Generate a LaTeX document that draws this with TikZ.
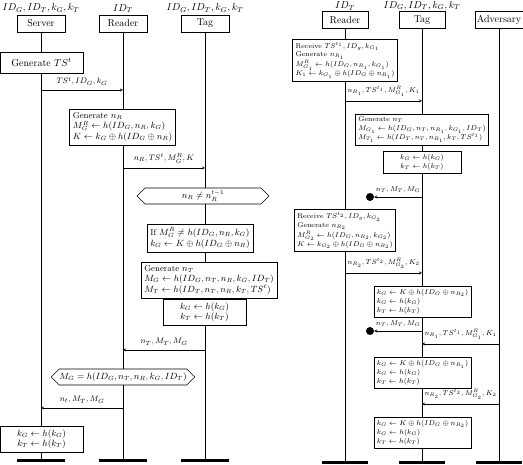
\documentclass[tikz,border=0pt]{standalone}
\usetikzlibrary{shapes.symbols,positioning}

\tikzset{
  party/.style={draw, minimum height=17pt, inner sep=2pt},
  partylabel/.style={inner sep=1pt},
  stepbox/.style={draw, fill=white, align=left, inner sep=3.5pt, font=\fontsize{8.6}{10.4}\selectfont},
  smallbox/.style={draw, fill=white, align=left, inner sep=3pt, font=\fontsize{7}{8.8}\selectfont},
  checkbox/.style={draw, semithick, fill=white, signal, signal to=west and east, inner xsep=0pt, inner ysep=2pt, minimum height=16pt, font=\fontsize{8.6}{10.4}\selectfont},
  endbar/.style={fill, minimum height=3pt, inner sep=0pt},
  msg/.style={font=\footnotesize, above=1pt},
  smsg/.style={font=\scriptsize, above=1pt},
  drop/.style={circle, fill, inner sep=0pt, minimum size=8pt},
}

\begin{document}
\begin{tikzpicture}[>=stealth, x=1pt, y=-1pt]
    \useasboundingbox (0,0) rectangle (523,465);
    % Parties (left run)
    \node[party, minimum width=48pt] (server) at (41,23.5)  {Server};
    \node[party, minimum width=48pt] (reader) at (123,23.5) {Reader};
    \node[party, minimum width=48pt] (tag)    at (205,23.5) {Tag};
    \node[partylabel, above=1pt of server] {$ID_G, ID_T, k_G, k_T$};
    \node[partylabel, above=1pt of reader] {$ID_T$};
    \node[partylabel, above=1pt of tag]    {$ID_G, ID_T, k_G, k_T$};
    \node[endbar, minimum width=48pt] (serverEnd) at (41,461)  {};
    \node[endbar, minimum width=48pt] (readerEnd) at (123,461) {};
    \node[endbar, minimum width=48pt] (tagEnd)    at (205,461) {};
    % Parties (right run)
    \node[party, minimum width=46pt] (reader2) at (345,20) {Reader};
    \node[party, minimum width=46pt] (tag2)    at (422,20) {Tag};
    \node[party, minimum width=46pt] (adv)     at (499,20) {Adversary};
    \node[partylabel, above=0pt of reader2] {$ID_T$};
    \node[partylabel, above=0pt of tag2]    {$ID_G, ID_T, k_G, k_T$};
    \node[endbar, minimum width=46pt] (reader2End) at (345,463) {};
    \node[endbar, minimum width=46pt] (tag2End)    at (422,463) {};
    \node[endbar, minimum width=46pt] (advEnd)     at (499,463) {};
    % Lifelines
    \draw (server) -- (serverEnd);
    \draw (reader) -- (readerEnd);
    \draw (tag) -- (tagEnd);
    \draw (reader2) -- (reader2End);
    \draw (tag2) -- (tag2End);
    \draw (adv) -- (advEnd);

    % Left run
    \node[stepbox, font=\normalsize, align=center, minimum width=83pt, minimum height=21pt] (genTS) at (41.5,62.5) {Generate $TS^t$};
    \draw[->] (server |- 0,90) -- node[msg] {$TS^t, ID_G, k_G$} (reader |- 0,90);
    \node[stepbox] (genR) at (122.5,127) {Generate $n_R$\\
      $M_G^R \leftarrow h(ID_G, n_R, k_G)$\\
      $K \leftarrow k_G \oplus h(ID_G \oplus n_R)$};
    \draw[->] (reader |- 0,168) -- node[msg] {$n_R, TS^t, M_G^R, K$} (tag |- 0,168);
    \node[checkbox, minimum width=132pt] (fresh) at (203,196) {$n_R \neq n_R^{t-1}$};
    \node[stepbox] (verify) at (200,238) {If $M_G^R \neq h(ID_G, n_R, k_G)$\\
      $k_G \leftarrow K \oplus h(ID_G \oplus n_R)$};
    \node[stepbox] (genT) at (209,280) {Generate $n_T$\\
      $M_G \leftarrow h(ID_G, n_T, n_R, k_G, ID_T)$\\
      $M_T \leftarrow h(ID_T, n_T, n_R, k_T, TS^t)$};
    \node[stepbox, align=center, minimum width=83pt] (updT) at (204.5,312) {$k_G \leftarrow h(k_G)$\\ $k_T \leftarrow h(k_T)$};
    \draw[->] (tag |- 0,350) -- node[msg] {$n_T, M_T, M_G$} (reader |- 0,350);
    \node[checkbox, minimum width=140pt] (match) at (123,377) {$M_G = h(ID_G, n_T, n_R, k_G, ID_T)$};
    \draw[->] (reader |- 0,408) -- node[msg] {$n_t, M_T, M_G$} (server |- 0,408);
    \node[stepbox, align=center, minimum width=83pt] (updS) at (41.5,439.5) {$k_G \leftarrow h(k_G)$\\ $k_T \leftarrow h(k_T)$};

    % Right run
    \node[smallbox] (recv1) at (345,60) {Receive $TS^{t_1}, ID_g, k_{G_1}$\\
      Generate $n_{R_1}$\\
      $M_{G_1}^R \leftarrow h(ID_G, n_{R_1}, k_{G_1})$\\
      $K_1 \leftarrow k_{G_1} \oplus h(ID_G \oplus n_{R_1})$};
    \draw[->] (reader2 |- 0,101) -- node[smsg] {$n_{R_1}, TS^{t_1}, M_{G_1}^R, K_1$} (tag2 |- 0,101);
    \node[smallbox] (genT1) at (422,129.5) {Generate $n_T$\\
      $M_{G_1} \leftarrow h(ID_G, n_T, n_{R_1}, k_{G_1}, ID_T)$\\
      $M_{T_1} \leftarrow h(ID_T, n_T, n_{R_1}, k_T, TS^{t_1})$};
    \node[smallbox, align=center, minimum width=78pt] (upd1) at (422,162.5) {$k_G \leftarrow h(k_G)$\\ $k_T \leftarrow h(k_T)$};
    \node[drop] (lost1) at (370,197) {};
    \draw[->] (tag2 |- lost1) -- node[smsg] {$n_T, M_T, M_G$} (lost1);
    \node[smallbox] (recv2) at (345,230.5) {Receive $TS^{t_2}, ID_g, k_{G_2}$\\
      Generate $n_{R_2}$\\
      $M_{G_2}^R \leftarrow h(ID_G, n_{R_2}, k_{G_2})$\\
      $K \leftarrow k_{G_2} \oplus h(ID_G \oplus n_{R_2})$};
    \draw[->] (reader2 |- 0,273) -- node[smsg] {$n_{R_2}, TS^{t_2}, M_{G_2}^R, K_2$} (tag2 |- 0,273);
    \node[smallbox] (upd2) at (422.5,301.5) {$k_G \leftarrow K \oplus h(ID_G \oplus n_{R_2})$\\
      $k_G \leftarrow h(k_G)$\\
      $k_T \leftarrow h(k_T)$};
    \node[drop] (lost2) at (370,331) {};
    \draw[->] (tag2 |- lost2) -- node[smsg] {$n_T, M_T, M_G$} (lost2);
    \draw[->] (adv |- 0,344) -- node[smsg] {$n_{R_1}, TS^{t_1}, M_{G_1}^R, K_1$} (tag2 |- 0,344);
    \node[smallbox] (replay1) at (422.5,373) {$k_G \leftarrow K \oplus h(ID_G \oplus n_{R_1})$\\
      $k_G \leftarrow h(k_G)$\\
      $k_T \leftarrow h(k_T)$};
    \draw[->] (adv |- 0,404) -- node[smsg] {$n_{R_2}, TS^{t_2}, M_{G_2}^R, K_2$} (tag2 |- 0,404);
    \node[smallbox] (replay2) at (422.5,432.5) {$k_G \leftarrow K \oplus h(ID_G \oplus n_{R_2})$\\
      $k_G \leftarrow h(k_G)$\\
      $k_T \leftarrow h(k_T)$};
\end{tikzpicture}
\end{document}
